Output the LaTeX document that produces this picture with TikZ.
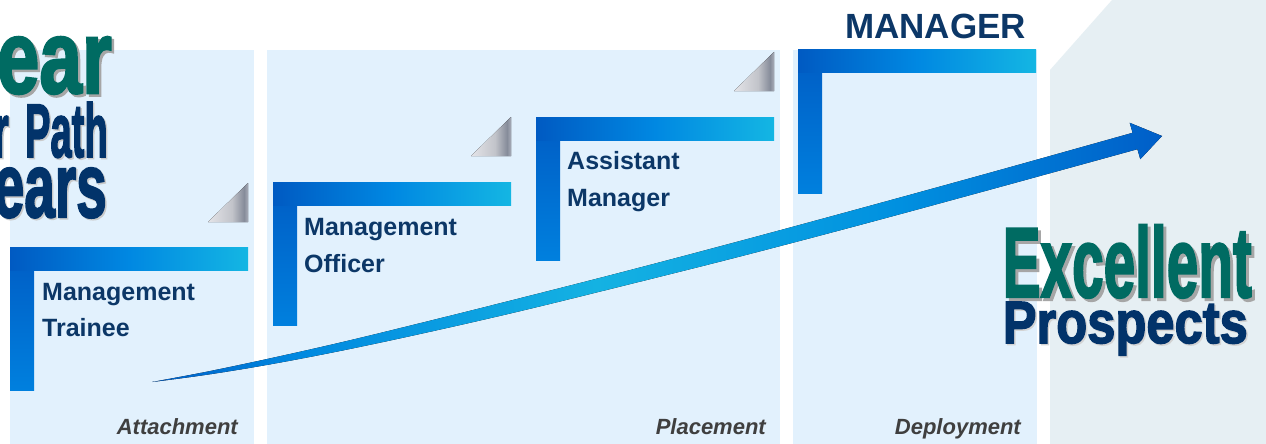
\documentclass[tikz,border=0pt]{standalone}
\usepackage{fontspec}
\setmainfont{Liberation Sans}
\newfontfamily\heavyfont[BoldFeatures={FakeBold=2.5}]{Liberation Sans}
\usepackage{graphicx}
\definecolor{panel}{HTML}{E2F1FD}
\definecolor{greypanel}{HTML}{E6EFF3}
\definecolor{navy}{HTML}{0C3767}
\definecolor{bignavy}{HTML}{02336A}
\definecolor{biggreen}{HTML}{006B62}
\definecolor{labelgrey}{HTML}{3F3F3F}
\definecolor{shadowgrey}{HTML}{A6A6A6}
\definecolor{hl}{HTML}{005AC2}
\definecolor{hm}{HTML}{0088E2}
\definecolor{hr}{HTML}{14B6E3}
\definecolor{vtop}{HTML}{005CC4}
\definecolor{vbot}{HTML}{0080DE}
\definecolor{ablueA}{HTML}{005EC6}
\definecolor{ablueB}{HTML}{0088E0}
\definecolor{acyan}{HTML}{14B2E2}
\definecolor{ablueC}{HTML}{0090E0}
\definecolor{ablueD}{HTML}{005EC8}
\definecolor{foldA}{HTML}{E4E4E8}
\definecolor{foldB}{HTML}{C2C4CA}
\definecolor{foldC}{HTML}{868C9A}
\definecolor{foldD}{HTML}{A8ACB8}
\pgfdeclarehorizontalshading{arrowshade}{100bp}{color(0bp)=(ablueA); color(25bp)=(ablueA); color(32bp)=(ablueB); color(47bp)=(acyan); color(62bp)=(ablueC); color(75bp)=(ablueD); color(100bp)=(ablueD)}
\pgfdeclarehorizontalshading{foldshade}{100bp}{color(0bp)=(foldA); color(25bp)=(foldA); color(55bp)=(foldB); color(70bp)=(foldC); color(75bp)=(foldD); color(100bp)=(foldD)}
\begin{document}
\begin{tikzpicture}[x=1pt,y=-1pt,
  steptext/.style={anchor=base west,inner sep=0pt,text=navy,font=\fontsize{25}{30}\selectfont\bfseries},
  phaselabel/.style={anchor=base east,inner sep=0pt,text=labelgrey,font=\fontsize{22}{26}\selectfont\bfseries\itshape},
  bigword/.style={anchor=base east,inner sep=0pt,font=\heavyfont\bfseries},
  bigshadow/.style={anchor=base east,inner sep=0pt,font=\heavyfont\bfseries,text=shadowgrey}]
\useasboundingbox (0,0) rectangle (1266,444);
\fill[white] (0,0) rectangle (1266,444);
% panels
\fill[panel] (10,50) rectangle (254,444);
\fill[panel] (267,50) rectangle (780,444);
\fill[panel] (793,50) rectangle (1037,444);
\fill[greypanel] (1050,444) -- (1050,70) -- (1112,0) -- (1266,0) -- (1266,444) -- cycle;
% left title (clipped by page edge)
\node[bigshadow] (earS) at (114.5,95.5) {\resizebox{115pt}{56pt}{ear}};
\node[bigword,text=biggreen] (ear) at (112,93) {\resizebox{115pt}{56pt}{ear}};
\node[bigshadow,text=shadowgrey!60] (pathS) at (109.5,158.5) {\resizebox{114pt}{55pt}{r\hspace{0.15em} Path}};
\node[bigword,text=bignavy] (path) at (108,157) {\resizebox{114pt}{55pt}{r\hspace{0.15em} Path}};
\node[bigshadow,text=shadowgrey!60] (yearsS) at (108.5,218.5) {\resizebox{113pt}{49pt}{ears}};
\node[bigword,text=bignavy] (years) at (107,217) {\resizebox{113pt}{49pt}{ears}};
% folded corners
\foreach \r/\t in {248/183, 511/117, 774/52} {
  \fill[shading=foldshade] (\r-40,\t+39) -- (\r,\t) -- (\r,\t+39) -- cycle;
}
% step brackets
\foreach \x/\y in {10/247, 273/182, 536/117, 798/50} {
  \fill[top color=vtop, bottom color=vbot] (\x,\y) rectangle (\x+24,\y+143);
  \fill[left color=hl, right color=hr, middle color=hm] (\x,\y) rectangle (\x+238,\y+23);
}
% step texts
\node[steptext] (t1a) at (42,300) {Management};
\node[steptext] (t1b) at (42,336) {Trainee};
\node[steptext] (t2a) at (304,235) {Management};
\node[steptext] (t2b) at (304,272) {Officer};
\node[steptext] (t3a) at (567,169) {Assistant};
\node[steptext] (t3b) at (567,206) {Manager};
\node[steptext,font=\fontsize{35}{40}\selectfont\bfseries] (t4) at (845,39) {MANAGER};
% phase labels
\node[phaselabel] (ph1) at (238,434) {Attachment};
\node[phaselabel] (ph2) at (766,434) {Placement};
\node[phaselabel] (ph3) at (1021,434) {Deployment};
% arrow
\fill[shading=arrowshade]
  plot[smooth,tension=0.6] coordinates {(152,382) (205.8,371.9) (269.4,358.5) (343,341.9) (426.4,321.6) (519.75,298.25) (623,271.9) (736.2,242) (859.2,208.7) (992.2,172.1) (1132.6,132.8)}
  -- (1129.7,122.8) -- (1162,136) -- (1140.3,159.2) -- (1137.4,149.2)
  -- plot[smooth,tension=0.6] coordinates {(1137.4,149.2) (992.2,189.1) (859.2,225.2) (736.2,257.5) (623,285.9) (519.75,311.25) (426.4,332.6) (343,350.4) (269.4,364.5) (205.8,374.9) (152,382)}
  -- cycle;
% right title
\node[bigshadow] (excS) at (1255,300) {\resizebox{249pt}{72pt}{Excellent}};
\node[bigword,text=biggreen] (exc) at (1252,297) {\resizebox{249pt}{72pt}{Excellent}};
\node[bigshadow,text=shadowgrey!50] (proS) at (1249.5,344.5) {\resizebox{245pt}{41pt}{Prospects}};
\node[bigword,text=bignavy] (pro) at (1248,343) {\resizebox{245pt}{41pt}{Prospects}};
\end{tikzpicture}
\end{document}
